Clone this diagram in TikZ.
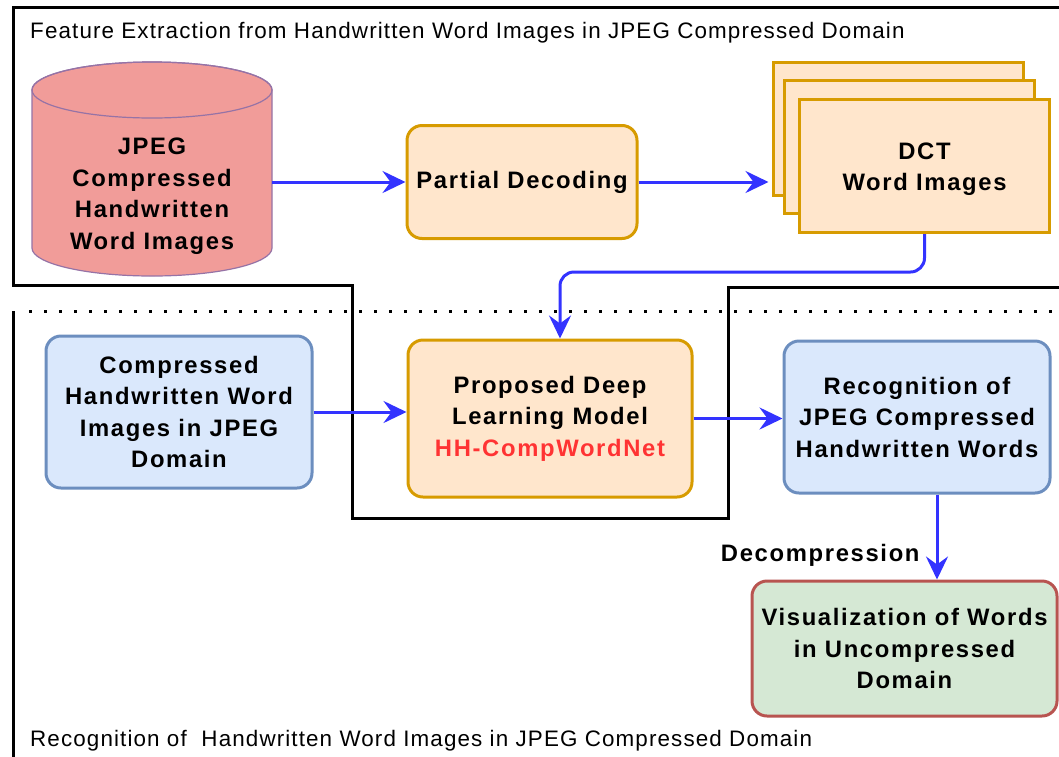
\documentclass[tikz,border=0pt]{standalone}
\usepackage{fontspec}
\setmainfont{Liberation Sans}
\newfontfamily\titlefont[LetterSpace=5]{Liberation Sans}
\newfontfamily\boxfont[LetterSpace=7]{Liberation Sans}
\usepackage{xcolor}
\usepackage{tikz}
\usetikzlibrary{calc, shapes.geometric, positioning, arrows.meta}

\definecolor{dbfill}{HTML}{F19C99}
\definecolor{dbline}{HTML}{9673A6}
\definecolor{orfill}{HTML}{FFE6CC}
\definecolor{orline}{HTML}{D79B00}
\definecolor{blfill}{HTML}{DAE8FC}
\definecolor{blline}{HTML}{6C8EBF}
\definecolor{grfill}{HTML}{D5E8D4}
\definecolor{grline}{HTML}{B85450}
\definecolor{flowblue}{HTML}{3333FF}
\definecolor{netred}{HTML}{FF3333}

\newcommand{\boxtxt}{\boxfont\bfseries\fontsize{23.8}{31.5}\selectfont}
\newcommand{\titletxt}{\titlefont\fontsize{22.4}{26}\selectfont}

\begin{document}
\begin{tikzpicture}[x=1pt, y=-1pt,
    box/.style={draw, line width=3pt, rounded corners=15pt, align=center, font=\boxtxt, inner sep=0pt},
    orbox/.style={box, draw=orline, fill=orfill},
    blbox/.style={box, draw=blline, fill=blfill, minimum width=266pt, minimum height=152pt},
    page/.style={draw=orline, fill=orfill, line width=3pt, minimum width=250pt, minimum height=133pt, align=center, font=\boxtxt, inner sep=0pt},
    flow/.style={draw=flowblue, line width=3pt, -{Stealth[length=23pt, width=22pt, inset=8pt]}},
    frame/.style={line width=3pt, black}]
    % 1. Khung và nền
    \useasboundingbox (0,0) rectangle (1059,756);
    \clip (0,0) rectangle (1059,756);
    \fill[white] (0,0) rectangle (1059,756);

    % 2. Hai vùng: trích đặc trưng (trên) và nhận dạng (dưới)
    \draw[frame] (1070,7) -- (13,7) -- (13,285) -- (352,285) -- (352,518)
        -- (728,518) -- (728,287) -- (1070,287);
    \draw[frame] (13,770) -- (13,311);
    \draw[line width=3pt, dash pattern=on 3pt off 12pt] (29,311) -- (1070,311);

    \node[anchor=west, font=\titletxt, inner sep=0pt] (toptitle) at (30,33)
        {Feature Extraction from Handwritten Word Images in JPEG Compressed Domain};
    \node[anchor=west, font=\titletxt, inner sep=0pt] (bottitle) at (30,741)
        {Recognition of\ \ Handwritten Word Images in JPEG Compressed Domain};

    % 3. Cơ sở dữ liệu (hình trụ)
    \draw[draw=dbline, fill=dbfill, line width=1.2pt]
        (32,90) -- (32,248) arc[start angle=180, end angle=360, x radius=120pt, y radius=28pt]
        -- (272,90) arc[start angle=0, end angle=180, x radius=120pt, y radius=28pt] -- cycle;
    \draw[draw=dbline, line width=1.2pt] (152,90) ellipse[x radius=120pt, y radius=28pt];
    \node[inner sep=0pt, minimum width=240pt, minimum height=214pt] (db) at (152,169) {};
    \node[align=center, font=\boxtxt, inner sep=0pt] (dbtext) at (152,196)
        {JPEG\\Compressed\\Handwritten\\Word Images};

    % 4. Các khối
    \node[orbox, minimum width=230pt, minimum height=113pt] (part) at (522,182) {Partial Decoding};
    \node[page] (dctbackb) at (898,128.5) {};
    \node[page] (dctbacka) at (909,146.5) {};
    \node[page] (dct) at (924.5,166) {};
    \node[align=center, font=\boxtxt, inner sep=0pt] (dcttext) at (924.5,169) {DCT\\Word Images};
    \node[blbox] (comp) at (179,412) {Compressed\\Handwritten Word\\Images in JPEG\\Domain};
    \node[orbox, minimum width=284pt, minimum height=157pt] (prop) at (550,418.5)
        {Proposed Deep\\Learning Model\\\textcolor{netred}{HH-CompWordNet}};
    \node[blbox] (recog) at (917,417) {Recognition of\\JPEG Compressed\\Handwritten Words};
    \node[box, draw=grline, fill=grfill, minimum width=305pt, minimum height=135pt]
        (vis) at (904.5,648.5) {Visualization of Words\\in Uncompressed\\Domain};

    % 5. Mũi tên
    \draw[flow] (db.east |- part.west) -- (part.west);
    \draw[flow] (part.east) -- ([xshift=-3pt]dctbackb.west |- part.east);
    \draw[flow, rounded corners=14pt] (dct.south) -- ++(0,38) -| ([xshift=10pt]prop.north);
    \draw[flow] (comp.east) -- (comp.east -| prop.west);
    \draw[flow] (prop.east) -- (prop.east -| recog.west);
    \draw[flow] ([xshift=20pt]recog.south) -- node[pos=0.72, left=16pt, font=\boxtxt, inner sep=0pt] (declabel)
        {Decompression} ([xshift=20pt]recog.south |- vis.north);
\end{tikzpicture}
\end{document}
